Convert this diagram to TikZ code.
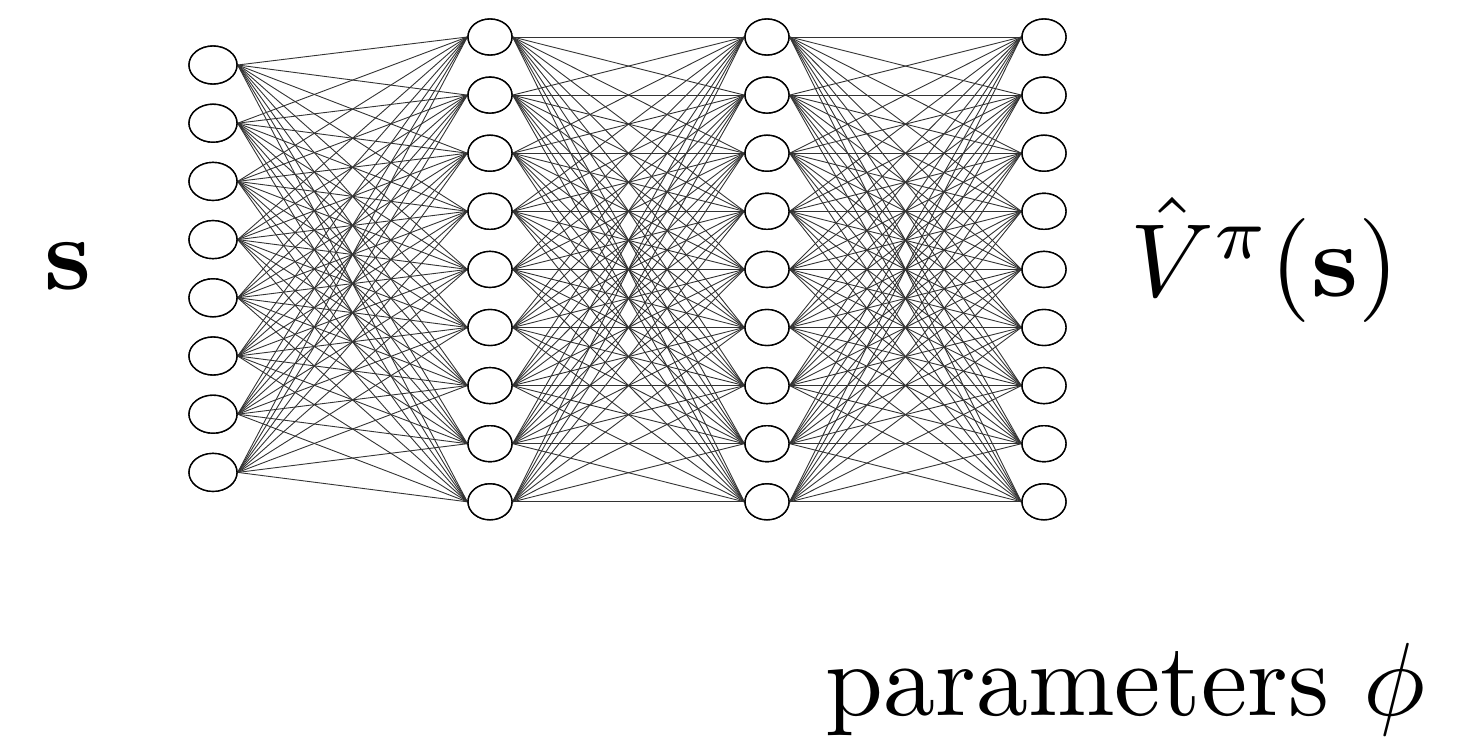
\documentclass[tikz,border=0pt]{standalone}
\usepackage{graphicx}
\usetikzlibrary{shapes.geometric}
\newcommand{\bigtxt}[1]{\scalebox{5.2}{\normalsize #1}}
\begin{document}
\begin{tikzpicture}[x=0.5pt,y=-0.5pt,
  neuronA/.style={draw=black, line width=0.7pt, fill=white, ellipse, minimum width=24pt, minimum height=19pt, inner sep=0pt},
  neuronB/.style={draw=black, line width=0.7pt, fill=white, ellipse, minimum width=22pt, minimum height=18pt, inner sep=0pt},
  edge/.style={draw=black!80, line width=0.45pt},
  label/.style={inner sep=0pt, anchor=base west}]
\useasboundingbox (0,0) rectangle (1481,738);
\begin{scope}
\clip (0,0) rectangle (1067,738);
\foreach \i in {1,...,8} \path (213,{65+58.2*(\i-1)}) coordinate (pa\i);
\foreach \j in {1,...,9} {
  \path (490,{37+58.1*(\j-1)}) coordinate (pb\j);
  \path (767,{37+58.1*(\j-1)}) coordinate (pc\j);
  \path (1044,{37+58.1*(\j-1)}) coordinate (pd\j);
}
\foreach \i in {1,...,8} \node[neuronA] (a\i) at (pa\i) {};
\foreach \j in {1,...,9} {
  \node[neuronB] (b\j) at (pb\j) {};
  \node[neuronB] (c\j) at (pc\j) {};
  \node[neuronB] (d\j) at (pd\j) {};
}
\foreach \i in {1,...,8} \foreach \j in {1,...,9} \draw[edge] (a\i.east) -- (b\j.west);
\foreach \i in {1,...,9} \foreach \j in {1,...,9} {
  \draw[edge] (b\i.east) -- (c\j.west);
  \draw[edge] (c\i.east) -- (d\j.west);
}
\foreach \i in {1,...,8} \node[neuronA] at (pa\i) {};
\foreach \j in {1,...,9} {
  \node[neuronB] at (pb\j) {};
  \node[neuronB] at (pc\j) {};
  \node[neuronB] at (pd\j) {};
}
\end{scope}
\node[label] (sin) at (44,289) {\bigtxt{$\mathbf{s}$}};
\node[label] (vout) at (1130,296) {\bigtxt{$\hat{V}^{\pi}(\mathbf{s})$}};
\node[label] (par) at (825,715) {\bigtxt{parameters $\phi$}};
\end{tikzpicture}
\end{document}
